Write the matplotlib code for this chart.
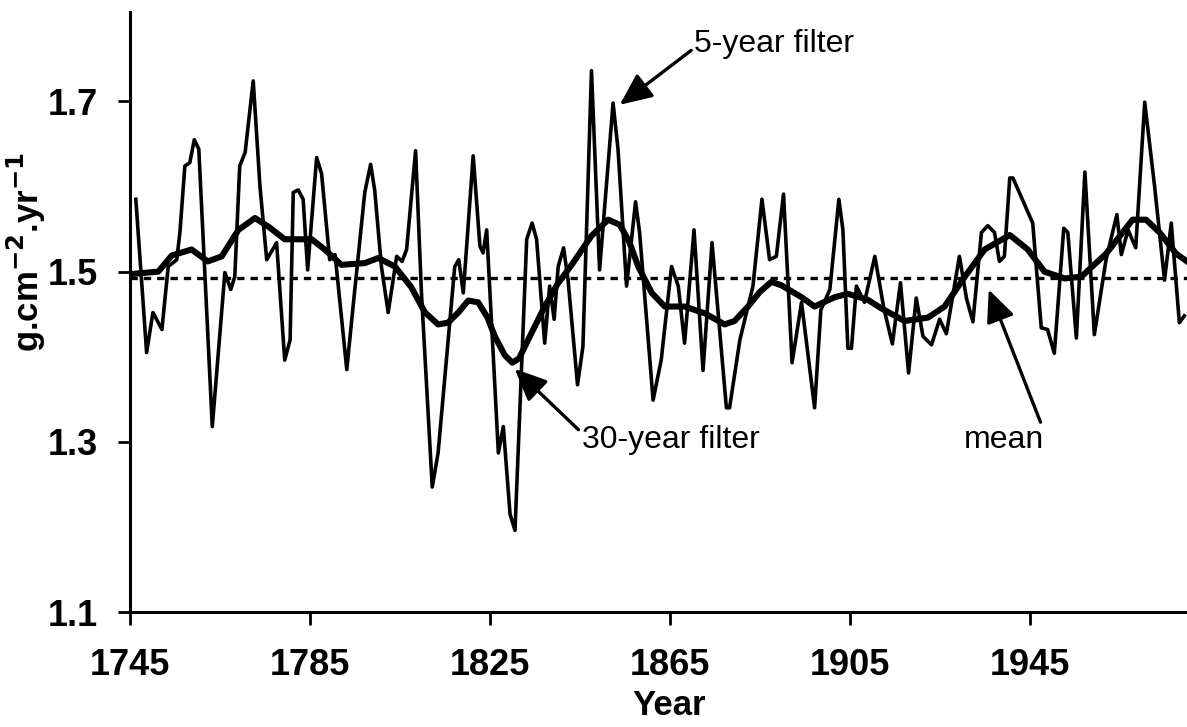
import numpy as np
import matplotlib.pyplot as plt

plt.rcParams['font.family'] = ['Liberation Sans', 'DejaVu Sans']

# 5-year filter (vertices)
yr5 = [1746.3, 1748.7, 1750.1, 1752.1, 1753.5, 1755.4, 1756.1, 1757.2, 1758.3, 1759.3,
       1760.3, 1763.3, 1766.1, 1767.4, 1768.3, 1769.4, 1770.6, 1772.4, 1773.9, 1775.4,
       1777.6, 1779.4, 1780.6, 1781.3, 1782.4, 1783.5, 1784.5, 1786.5, 1787.6, 1789.4,
       1790.6, 1793.2, 1794.6, 1797.2, 1798.5, 1799.4, 1800.9, 1802.4, 1804.3, 1805.5,
       1806.5, 1808.5, 1809.8, 1812.2, 1813.5, 1817.2, 1818.1, 1819.1, 1821.3, 1822.8,
       1823.5, 1824.3, 1826.9, 1828.0, 1829.5, 1830.6, 1833.2, 1834.4, 1835.4, 1837.2,
       1838.3, 1839.3, 1840.2, 1841.4, 1842.4, 1844.5, 1845.7, 1847.6, 1849.4, 1852.4,
       1853.5, 1855.4, 1857.4, 1858.3, 1861.3, 1863.1, 1865.4, 1866.9, 1868.3, 1870.4,
       1872.4, 1874.4, 1877.6, 1878.3, 1880.6, 1883.5, 1885.5, 1887.2, 1888.7, 1890.3,
       1892.2, 1894.3, 1897.2, 1898.6, 1900.6, 1902.6, 1903.5, 1904.6, 1905.4, 1906.5,
       1908.3, 1910.6, 1912.6, 1914.5, 1916.3, 1918.1, 1919.8, 1921.3, 1923.2, 1925.0,
       1926.5, 1929.4, 1931.0, 1932.4, 1934.3, 1935.7, 1937.2, 1938.3, 1939.4, 1940.6,
       1941.3, 1942.8, 1945.7, 1947.6, 1949.0, 1950.5, 1952.6, 1953.5, 1955.4, 1957.3,
       1959.4, 1962.0, 1964.4, 1965.4, 1966.9, 1968.6, 1970.6, 1972.8, 1975.0, 1976.5,
       1978.3, 1979.4]
val5 = [1.585, 1.405, 1.452, 1.432, 1.506, 1.514, 1.546, 1.624, 1.628, 1.655,
        1.644, 1.318, 1.499, 1.479, 1.494, 1.624, 1.640, 1.724, 1.600, 1.514,
        1.534, 1.396, 1.420, 1.593, 1.596, 1.585, 1.502, 1.634, 1.615, 1.514,
        1.520, 1.385, 1.459, 1.593, 1.626, 1.596, 1.506, 1.452, 1.518, 1.512,
        1.526, 1.642, 1.475, 1.247, 1.287, 1.506, 1.514, 1.475, 1.636, 1.530,
        1.522, 1.549, 1.287, 1.318, 1.215, 1.196, 1.538, 1.557, 1.538, 1.416,
        1.483, 1.444, 1.506, 1.528, 1.490, 1.367, 1.412, 1.736, 1.502, 1.698,
        1.644, 1.483, 1.582, 1.546, 1.349, 1.396, 1.506, 1.483, 1.416, 1.549,
        1.384, 1.534, 1.340, 1.340, 1.420, 1.483, 1.585, 1.514, 1.518, 1.591,
        1.393, 1.464, 1.340, 1.455, 1.479, 1.585, 1.549, 1.410, 1.410, 1.483,
        1.464, 1.518, 1.457, 1.415, 1.487, 1.381, 1.469, 1.424, 1.414, 1.444,
        1.427, 1.518, 1.468, 1.441, 1.546, 1.554, 1.546, 1.512, 1.518, 1.610,
        1.610, 1.592, 1.557, 1.434, 1.432, 1.404, 1.551, 1.546, 1.422, 1.617,
        1.426, 1.514, 1.567, 1.520, 1.549, 1.528, 1.699, 1.600, 1.490, 1.557,
        1.440, 1.448]

# 30-year filter
yr30 = [1745.0, 1751.3, 1754.3, 1758.7, 1762.3, 1765.4, 1769.1, 1772.8, 1776.0, 1779.4,
        1785.4, 1788.3, 1792.0, 1797.2, 1800.2, 1803.9, 1807.5, 1810.6, 1813.5, 1815.7,
        1818.0, 1820.2, 1822.4, 1824.5, 1826.1, 1828.3, 1830.0, 1831.5, 1834.0, 1837.2,
        1840.0, 1843.2, 1847.6, 1851.3, 1853.9, 1856.0, 1858.0, 1861.0, 1863.9, 1868.3,
        1872.8, 1877.2, 1879.4, 1882.4, 1885.0, 1887.6, 1889.8, 1894.3, 1897.2, 1901.7,
        1904.6, 1909.0, 1912.0, 1917.2, 1922.4, 1926.1, 1930.6, 1935.0, 1940.6, 1944.6,
        1948.3, 1952.8, 1956.5, 1962.0, 1967.9, 1970.9, 1973.9, 1977.6, 1980.0]
val30 = [1.497, 1.500, 1.519, 1.526, 1.512, 1.518, 1.549, 1.563, 1.552, 1.538,
         1.538, 1.526, 1.508, 1.510, 1.516, 1.506, 1.482, 1.452, 1.438, 1.440,
         1.452, 1.466, 1.464, 1.446, 1.424, 1.402, 1.393, 1.398, 1.425, 1.459,
         1.485, 1.508, 1.542, 1.561, 1.555, 1.535, 1.506, 1.475, 1.459, 1.459,
         1.451, 1.438, 1.442, 1.459, 1.476, 1.488, 1.484, 1.470, 1.459, 1.470,
         1.474, 1.467, 1.457, 1.442, 1.446, 1.459, 1.494, 1.526, 1.543, 1.526,
         1.500, 1.492, 1.494, 1.521, 1.561, 1.561, 1.546, 1.521, 1.512]

mean_val = 1.492
xticks = [1745, 1785, 1825, 1865, 1905, 1945]
yticks = [1.1, 1.3, 1.5, 1.7]

fig = plt.figure(figsize=(11.87, 7.27), dpi=100)
ax = fig.add_axes([0.1095, 0.158, 0.8905, 0.8255])

ax.plot(yr5, val5, color='black', lw=2.6)
ax.plot(yr30, val30, color='black', lw=4.4, solid_joinstyle='round')
ax.axhline(mean_val, color='black', lw=2.4, dashes=(2.2, 1.8))

ax.set_xlim(1745, 1980)
ax.set_ylim(1.1, 1.805)
ax.set_xticks(xticks)
ax.set_yticks(yticks)
ax.set_xticklabels([str(t) for t in xticks], fontsize=26, fontweight='bold')
ax.set_yticklabels([f'{t:.1f}' for t in yticks], fontsize=26, fontweight='bold')
ax.tick_params(axis='x', direction='out', length=9, width=2, pad=17)
ax.tick_params(axis='y', direction='out', length=9, width=2, pad=14)

for side in ['top', 'right']:
    ax.spines[side].set_visible(False)
for side in ['left', 'bottom']:
    ax.spines[side].set_linewidth(2.2)

ax.set_xlabel('Year', fontsize=25, fontweight='bold')
ax.xaxis.set_label_coords(0.51, -0.128)
ax.set_ylabel(r'g.cm$^{\mathbf{-2}}$.yr$^{\mathbf{-1}}$', fontsize=25, fontweight='bold')
ax.yaxis.set_label_coords(-0.078, 0.6)

def arrow(rel):
    return dict(arrowstyle='-|>,head_length=0.85,head_width=0.38', color='black',
                lw=2.4, relpos=rel, shrinkA=0, shrinkB=2)

ax.annotate('5-year filter', xy=(1853.4, 1.694), xytext=(1870.5, 1.767),
            fontsize=23, va='center', ha='left', arrowprops=arrow((-0.02, 0.3)))
ax.annotate('30-year filter', xy=(1830.1, 1.388), xytext=(1845.5, 1.302),
            fontsize=23, va='center', ha='left', arrowprops=arrow((-0.02, 0.85)))
ax.annotate('mean', xy=(1935.7, 1.482), xytext=(1939.4, 1.302),
            fontsize=23, va='center', ha='center', arrowprops=arrow((0.95, 1.1)))

fig.savefig('out.png', dpi=100)
